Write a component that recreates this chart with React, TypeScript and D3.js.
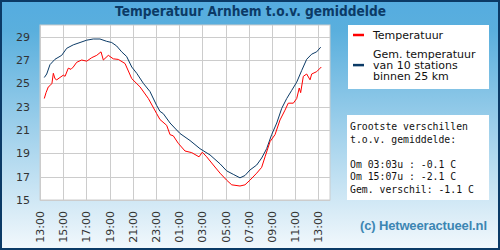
import React, { useRef, useEffect } from "react";
import * as d3 from "d3";

// hours after 13:00 and temperature (C)
const tempHours = [0.37, 0.52, 0.72, 0.86, 1.03, 1.15, 1.29, 1.44, 1.72, 2.01, 2.16, 2.44, 2.67, 2.87, 3.16, 3.59, 4.03, 4.46, 4.89, 5.26, 5.46, 5.89, 6.32, 6.75, 7.33, 7.91, 8.62, 9.34, 10.06, 10.34, 10.92, 11.21, 11.49, 11.92, 12.5, 13.08, 13.71, 13.99, 14.37, 14.94, 15.52, 16.09, 16.53, 17.24, 17.67, 18.1, 18.68, 19.11, 19.4, 19.83, 20.26, 20.69, 21.12, 21.4, 21.84, 22.13, 22.35, 22.47, 22.7, 22.99, 23.28, 23.42, 23.85, 24.25];
const tempValues = [23.7, 24.2, 24.7, 24.8, 25.0, 25.86, 25.4, 25.3, 25.5, 25.7, 25.6, 26.3, 26.2, 26.4, 26.8, 27.0, 26.9, 27.2, 27.4, 27.7, 27.0, 27.4, 27.1, 27.05, 26.7, 25.4, 24.7, 23.7, 22.4, 21.9, 21.4, 20.6, 20.5, 19.86, 19.2, 19.06, 18.7, 19.1, 18.7, 18.0, 17.3, 16.7, 16.3, 16.2, 16.3, 16.7, 17.3, 17.8, 18.7, 20.0, 20.6, 21.86, 22.7, 23.3, 23.3, 23.7, 24.6, 24.2, 25.6, 25.8, 25.3, 25.8, 26.0, 26.4];

const avgHours = [0.37, 0.58, 0.86, 1.29, 1.87, 2.3, 2.87, 3.45, 4.03, 4.59, 5.17, 5.75, 6.18, 6.61, 7.04, 7.47, 7.91, 8.34, 8.91, 9.48, 10.06, 10.34, 10.63, 11.21, 11.78, 12.07, 12.93, 13.79, 14.66, 15.52, 16.09, 16.66, 17.24, 17.67, 18.1, 18.68, 19.11, 19.54, 19.97, 20.41, 20.84, 21.27, 21.7, 22.13, 22.56, 22.99, 23.42, 23.85, 24.2];
const avgValues = [25.5, 25.8, 26.6, 27.06, 27.4, 28.0, 28.3, 28.5, 28.7, 28.8, 28.8, 28.6, 28.5, 28.2, 27.7, 27.3, 26.4, 25.86, 25.0, 24.3, 23.1, 22.6, 22.4, 21.6, 21.0, 20.7, 20.1, 19.4, 18.86, 18.1, 17.5, 17.2, 16.9, 17.1, 17.57, 18.0, 18.6, 19.4, 20.6, 21.6, 22.86, 23.7, 24.4, 25.1, 26.1, 27.06, 27.5, 27.7, 28.1];

const timeLabels = ["13:00", "15:00", "17:00", "19:00", "21:00", "23:00", "01:00", "03:00", "05:00", "07:00", "09:00", "11:00", "13:00"];
const yTicks = [15, 17, 19, 21, 23, 25, 27, 29];

const legendItems = [
  { color: "#ff0000", lines: ["Temperatuur"] },
  { color: "#0b3a66", lines: ["Gem. temperatuur", "van 10 stations", "binnen 25 km"] },
];
const infoLines = ["Grootste verschillen", "t.o.v. gemiddelde:", "", "Om 03:03u : -0.1 C", "Om 15:07u : -2.1 C", "Gem. verschil: -1.1 C"];

const App = () => {
  const svgRef = useRef<SVGSVGElement>(null);

  useEffect(() => {
    const svg = d3.select(svgRef.current);
    const width = 500;
    const height = 250;
    const plot = { left: 40, top: 25, right: 330, bottom: 200 };

    const x = d3.scaleLinear().domain([0, 25]).range([plot.left, plot.right]);
    const y = d3.scaleLinear().domain([15, 30]).range([plot.bottom, plot.top]);

    // background gradient
    const defs = svg.append("defs");
    const grad = defs.append("linearGradient").attr("id", "bg").attr("x1", 0).attr("y1", 0).attr("x2", 0).attr("y2", 1);
    grad.append("stop").attr("offset", "0%").attr("stop-color", "#55ace0");
    grad.append("stop").attr("offset", "12%").attr("stop-color", "#5aafdd");
    grad.append("stop").attr("offset", "100%").attr("stop-color", "#f2f8fc");

    svg.append("rect").attr("x", 1).attr("y", 1).attr("width", width - 2).attr("height", height - 2)
      .attr("fill", "url(#bg)").attr("stroke", "#0b3a66").attr("stroke-width", 2);

    svg.append("text").attr("x", 115).attr("y", 15.5)
      .attr("textLength", 271).attr("lengthAdjust", "spacingAndGlyphs")
      .attr("font-family", "DejaVu Sans, sans-serif").attr("font-weight", "bold").attr("font-size", 14)
      .attr("fill", "#0b3a66").text("Temperatuur Arnhem t.o.v. gemiddelde");

    // plot area
    svg.append("rect").attr("x", plot.left).attr("y", plot.top)
      .attr("width", plot.right - plot.left).attr("height", plot.bottom - plot.top)
      .attr("fill", "#ffffff").attr("stroke", "#cccccc");

    const grid = svg.append("g").attr("stroke", "#cccccc").attr("stroke-width", 1);
    yTicks.forEach((t) => {
      grid.append("line").attr("x1", plot.left).attr("x2", plot.right)
        .attr("y1", Math.round(y(t)) + 0.5).attr("y2", Math.round(y(t)) + 0.5);
    });
    timeLabels.forEach((_, i) => {
      const xx = Math.round(x(i * 2)) + 0.5;
      grid.append("line").attr("x1", xx).attr("x2", xx).attr("y1", plot.top).attr("y2", plot.bottom);
    });

    // y labels
    svg.append("g").selectAll("text").data(yTicks).enter().append("text")
      .attr("x", 30).attr("y", (d) => y(d) + 4).attr("text-anchor", "end")
      .attr("font-family", "DejaVu Sans, sans-serif").attr("font-size", 11).attr("fill", "#333")
      .text((d) => d);

    // x labels (rotated)
    svg.append("g").selectAll("text").data(timeLabels).enter().append("text")
      .attr("transform", (_, i) => `translate(${x(i * 2) + 4},${plot.bottom + 11}) rotate(-90)`)
      .attr("text-anchor", "end")
      .attr("font-family", "DejaVu Sans, sans-serif").attr("font-size", 11).attr("fill", "#333")
      .text((d) => d);

    const line = d3.line<[number, number]>().x((d) => x(d[0])).y((d) => y(d[1]));
    const avgData = avgHours.map((h, i) => [h, avgValues[i]] as [number, number]);
    const tempData = tempHours.map((h, i) => [h, tempValues[i]] as [number, number]);

    svg.append("path").attr("d", line(avgData)).attr("fill", "none").attr("stroke", "#0b3a66").attr("stroke-width", 1);
    svg.append("path").attr("d", line(tempData)).attr("fill", "none").attr("stroke", "#ff0000").attr("stroke-width", 1);

    // legend
    svg.append("rect").attr("x", 348).attr("y", 25).attr("width", 141).attr("height", 64).attr("fill", "#fff");
    const lineH = 10.9;
    let ly = 38.5;
    legendItems.forEach((item) => {
      const n = item.lines.length;
      const midY = ly + ((n - 1) * lineH) / 2 - 3.5;
      svg.append("line").attr("x1", 353).attr("x2", 364).attr("y1", midY).attr("y2", midY)
        .attr("stroke", item.color).attr("stroke-width", 2.5);
      item.lines.forEach((t, j) => {
        svg.append("text").attr("x", 373).attr("y", ly + j * lineH)
          .attr("font-family", "DejaVu Sans, sans-serif").attr("font-size", 11).attr("fill", "#111")
          .text(t);
      });
      ly += (n - 1) * lineH + 19.2;
    });

    // info box
    svg.append("rect").attr("x", 347).attr("y", 115).attr("width", 142).attr("height", 85).attr("fill", "#fff");
    infoLines.forEach((t, i) => {
      svg.append("text").attr("x", 350).attr("y", 130 + i * 12.6)
        .attr("font-family", "DejaVu Sans Mono, monospace").attr("font-size", 9.8).attr("fill", "#111")
        .attr("xml:space", "preserve").text(t);
    });

    svg.append("text").attr("x", 360).attr("y", 230).attr("textLength", 127)
      .attr("font-family", "Liberation Sans, Arial, sans-serif").attr("font-weight", "bold").attr("font-size", 13)
      .attr("fill", "#3c86b3").text("(c) Hetweeractueel.nl");

    return () => {
      svg.selectAll("*").remove();
    };
  }, []);

  return (
    <svg ref={svgRef} width={500} height={250} style={{ position: "absolute", left: 0, top: 0 }} />
  );
};

export default App;
